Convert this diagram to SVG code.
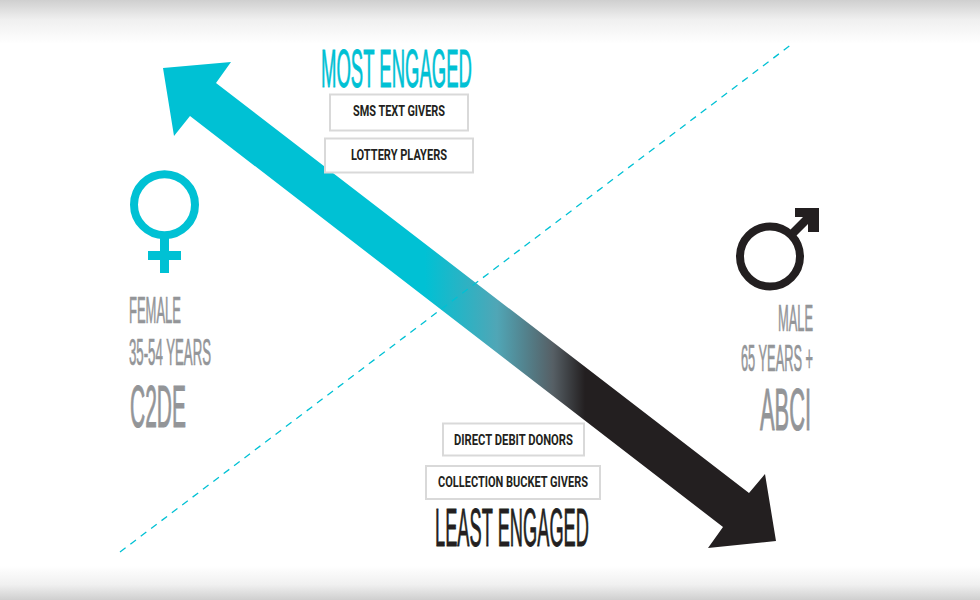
<svg xmlns="http://www.w3.org/2000/svg" width="980" height="600" viewBox="0 0 980 600">
<defs>
<linearGradient id="top" x1="0" y1="0" x2="0" y2="1"><stop offset="0" stop-color="#cfcfcf"/><stop offset="0.45" stop-color="#f0f0f0"/><stop offset="1" stop-color="#fff"/></linearGradient>
<linearGradient id="bot" x1="0" y1="1" x2="0" y2="0"><stop offset="0" stop-color="#cfcfcf"/><stop offset="0.45" stop-color="#f0f0f0"/><stop offset="1" stop-color="#fff"/></linearGradient>
<linearGradient id="arrow" gradientUnits="userSpaceOnUse" x1="425" y1="0" x2="585" y2="0"><stop offset="0" stop-color="#00c1d4"/><stop offset="0.45" stop-color="#50a6b6"/><stop offset="0.8" stop-color="#565f65"/><stop offset="1" stop-color="#231f20"/></linearGradient>
</defs>
<style>
text{font-family:"Liberation Sans",Arial,sans-serif}
.h{font-size:54px;stroke-width:.9px}
.g{fill:#939598;stroke:#939598;stroke-width:.7px}
.s{font-size:36px}
.l{font-size:60px;stroke-width:1.1px}
.b{fill:#fff;stroke:#d9d9d9;stroke-width:2}
.t{font-family:Roboto,"Liberation Sans",sans-serif;font-size:14px;font-weight:700;fill:#231f20}
</style>
<rect width="980" height="600" fill="#fff"/>
<rect width="980" height="44" fill="url(#top)"/>
<rect y="566" width="980" height="34" fill="url(#bot)"/>
<g id="connectors">
<polygon id="engagement-arrow" fill="url(#arrow)" points="163,68 231,62 216,83 749,493 765,474 776,541 708,548 723,527 190,116 174,136"/>
<line id="divider" x1="120" y1="552" x2="792" y2="44" stroke="#00c1d4" stroke-width="1.3" stroke-dasharray="7 6"/>
</g>
<g id="most-engaged"><text class="h" x="321" y="87" fill="#00c1d4" stroke="#00c1d4" textLength="151" lengthAdjust="spacingAndGlyphs">MOST ENGAGED</text></g>
<g id="sms"><rect class="b" x="330" y="94.500" width="138" height="36"/><text class="t" x="353" y="116" textLength="92" lengthAdjust="spacingAndGlyphs">SMS TEXT GIVERS</text></g>
<g id="lottery"><rect class="b" x="325" y="138.500" width="148" height="34"/><text class="t" x="351" y="160" textLength="96" lengthAdjust="spacingAndGlyphs">LOTTERY PLAYERS</text></g>
<g id="direct-debit"><rect class="b" x="443" y="423.500" width="141" height="32"/><text class="t" x="454" y="445" textLength="119" lengthAdjust="spacingAndGlyphs">DIRECT DEBIT DONORS</text></g>
<g id="collection"><rect class="b" x="426" y="466" width="174" height="33"/><text class="t" x="438" y="487" textLength="150" lengthAdjust="spacingAndGlyphs">COLLECTION BUCKET GIVERS</text></g>
<g id="least-engaged"><text class="h" x="435" y="546" fill="#231f20" stroke="#231f20" textLength="154" lengthAdjust="spacingAndGlyphs">LEAST ENGAGED</text></g>
<g id="female">
<circle cx="164.500" cy="204.700" r="30.500" fill="none" stroke="#00c1d4" stroke-width="8"/>
<rect x="160" y="236" width="9" height="37" fill="#00c1d4"/>
<rect x="148" y="251" width="33" height="9" fill="#00c1d4"/>
<text class="s g" x="129" y="323" textLength="52" lengthAdjust="spacingAndGlyphs">FEMALE</text>
<text class="s g" x="129" y="365" textLength="82" lengthAdjust="spacingAndGlyphs">35-54 YEARS</text>
<text class="l g" x="130" y="427" textLength="56" lengthAdjust="spacingAndGlyphs">C2DE</text>
</g>
<g id="male">
<circle cx="770" cy="256.500" r="30" fill="none" stroke="#231f20" stroke-width="8"/>
<polygon points="795,208 819,208 819,232 808,232 808,224 794,238 789,231 803,217 795,217" fill="#231f20"/>
<text class="s g" x="778" y="331" textLength="35" lengthAdjust="spacingAndGlyphs">MALE</text>
<text class="s g" x="741" y="371" textLength="72" lengthAdjust="spacingAndGlyphs">65 YEARS +</text>
<text class="l g" x="760" y="430" textLength="51" lengthAdjust="spacingAndGlyphs">ABCI</text>
</g>
</svg>
